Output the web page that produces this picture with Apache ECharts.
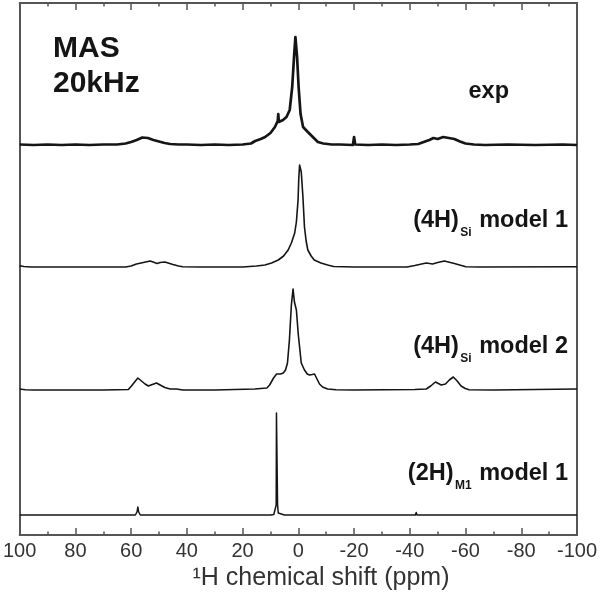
<!DOCTYPE html>
<html><head><meta charset="utf-8">
<script src="https://cdn.jsdelivr.net/npm/echarts@6/dist/echarts.min.js"></script>
<style>html,body{margin:0;padding:0;background:#fff}#c{width:600px;height:594px}</style>
</head><body><div id="c"></div>
<script>
const FONT = "'Liberation Sans', Arial, Helvetica, sans-serif";

// x axis: ppm, reversed, ticks every 20 (minor every 10)
const xMin = -100, xMax = 100, xStep = 20;
const xTitle = '\u00B9H chemical shift (ppm)';
const annotation = ['MAS', '20kHz'];

// vertical offsets of the stacked spectra (intensity units)
const offsets = [390, 268, 145, 20];

// [ppm, intensity]
const expData = [[100,0.5],[95,0],[90,0.5],[85,0],[80,0.5],[75,0],[70,0.5],[65,0.5],[62,1.5],[60,3],[58,5],[56,7.5],[54,7],[52,5],[50,3.5],[48,2],[46,1],[43,0.5],[40,0.5],[35,0],[30,0.5],[25,0],[20,0.5],[17,1.5],[15.5,4],[13.5,6],[11.9,8],[10,12],[8.4,18],[7.8,20],[7.4,24],[7.2,31],[7.0,23],[6.6,23],[5.5,25],[4.25,28],[3.1,35],[2.2,58],[1.5,90],[1.05,108],[0.45,88],[-0.1,58],[-0.8,31],[-1.7,18],[-3.4,13],[-5.2,8],[-7,3],[-9,1.5],[-12,0.5],[-15,0.5],[-19.6,0],[-20,8],[-20.4,0.5],[-25,0],[-30,0.5],[-35,0],[-40,0.5],[-43,1],[-45,3],[-47,5],[-48.5,7],[-50,6],[-52,8],[-54,7],[-56,6],[-58,3.5],[-60,1.5],[-63,0.5],[-67,0],[-75,0.5],[-85,0],[-95,0.5],[-100,0]];

const model1Data = [[100,1.3],[98.5,0.5],[96,0],[80,0],[62,0],[60,1],[58.1,3],[55.6,4.5],[53.2,6],[52.1,5],[50.7,3.5],[49.6,4.5],[47.9,5],[45,2.5],[43,1],[41.5,0.3],[35,0],[20,0],[15,1],[12,2],[9.6,4],[7.2,7],[5.3,11],[3.65,17],[2.5,24],[1.3,34],[0.7,45],[0.1,67],[-0.15,88],[-0.45,102],[-0.8,100],[-1.05,95],[-1.65,70],[-2.2,40],[-2.8,26],[-3.4,17],[-4.6,11],[-5.7,7],[-8.1,4],[-10.5,2],[-12.7,0.5],[-20,0],[-39,0],[-41.8,1.5],[-45.9,4],[-48.2,3],[-50,4.5],[-52.4,6],[-56,3.5],[-60.1,0.3],[-65,0],[-100,0.3]];

const model2Data = [[100,1],[98,0.3],[95,0],[70,0],[61,0.5],[59.9,4],[57.6,12],[56.3,9],[55,6],[53.8,4],[52.4,5.5],[50.9,7],[49.6,5],[47.9,2.5],[46,1],[43.8,1],[41.4,0],[30,0],[15.6,1],[11.3,2],[10.3,5],[8.9,12],[7.8,16],[6.4,16],[5.4,17],[4.6,20],[3.9,27],[3.2,50],[2.5,85],[1.9,101],[1.4,88],[0.7,80],[0,55],[-1.05,27],[-2.2,20],[-3.2,16],[-4,15],[-5,15.5],[-5.8,16],[-6.7,11],[-7.6,6],[-8.7,3],[-10.5,1],[-13.5,0.3],[-20,0],[-41.8,0.5],[-45.9,1],[-47.5,4],[-49.2,8],[-51.3,5],[-52.8,6],[-54.2,10],[-55.6,13],[-57,9],[-58.4,4],[-59.9,1.5],[-61.3,0.3],[-70,0],[-100,1]];

const model2HData = [[100,0],[58.5,0],[57.9,3],[57.6,8],[57.3,3],[56.7,0],[10,0],[8.8,0.5],[8.2,2],[7.95,10],[7.85,102],[7.55,102],[7.45,10],[7.2,2],[6.6,0.5],[5,0],[-42,0],[-42.3,2.5],[-42.6,0],[-92,0],[-92.3,1],[-92.6,0],[-100,0]];

// labels: [main, subscript, rest]
const labels = [['exp','',''],['(4H)','Si',' model 1'],['(4H)','Si',' model 2'],['(2H)','M1',' model 1']];
const spectra = [expData, model1Data, model2Data, model2HData];

const chart = echarts.init(document.getElementById('c'), null, {renderer:'canvas'});
const frame = '#555';
function xAx(pos, showLabel) {
  return {
    type:'value', position:pos, min:xMin, max:xMax, interval:xStep, inverse:true,
    axisLine:{show:true, onZero:false, lineStyle:{color:frame, width:2}},
    axisTick:{show:true, inside:true, length:7, lineStyle:{color:frame, width:1.5}},
    minorTick:{show:true, splitNumber:2, length:3.5, lineStyle:{color:frame, width:1.5}},
    axisLabel:{show:showLabel, fontSize:20, color:'#333', fontFamily:FONT, margin:6, showMinLabel:true, showMaxLabel:true},
    splitLine:{show:false}, minorSplitLine:{show:false}
  };
}
function yAx(pos) {
  return {type:'value', position:pos, min:0, max:532,
    axisLine:{show:true, onZero:false, lineStyle:{color:frame, width:2}},
    axisTick:{show:false}, axisLabel:{show:false}, splitLine:{show:false}};
}
const widths = [2.7, 1.6, 1.6, 1.5];
const series = spectra.map((d, i) => ({
  type:'line', name: labels[i].join(''), xAxisIndex:0, yAxisIndex:0,
  data: d.map(p => [p[0], p[1] + offsets[i]]),
  showSymbol:false, symbol:'none', animation:false,
  lineStyle:{color:'#151515', width:widths[i], join:'round'}
}));

// text measuring for subscript layout
const mctx = document.createElement('canvas').getContext('2d');
function tw(text, font) { mctx.font = font; return mctx.measureText(text).width; }
const mainSize = 23.5;
const mainFont = 'bold ' + mainSize + 'px ' + FONT, subFont = 'bold 12px ' + FONT;
function txt(x, y, text, font, align, fill) {
  return {type:'text', x:x, y:y, style:{text:text, font:font, fill:fill || '#151515', align:align, verticalAlign:'middle', textAlign:align, textVerticalAlign:'middle'}};
}

// label anchor: [right edge, baseline] in pixels
const labelPos = [[509, 100], [568, 228.5], [568, 355], [568, 481.5]];
const graphics = [
  txt(53, 48.5, annotation[0], 'bold 30px ' + FONT, 'left'),
  txt(53, 83.5, annotation[1], 'bold 30px ' + FONT, 'left'),
  txt(321, 578.5, xTitle, '25px ' + FONT, 'center', '#333')
];
labels.forEach((l, i) => {
  const R = labelPos[i][0], base = labelPos[i][1];
  const yMain = base - 0.3465 * mainSize;
  if (!l[1]) { graphics.push(txt(R, yMain, l[0], mainFont, 'right')); return; }
  const wRest = tw(l[2], mainFont), wSub = tw(l[1], subFont);
  const restLeft = R - wRest;
  const subLeft = restLeft - wSub - 1;
  graphics.push(txt(restLeft, yMain, l[2], mainFont, 'left'));
  graphics.push(txt(subLeft, base + 8 - 0.3465 * 12, l[1], subFont, 'left'));
  graphics.push(txt(subLeft - 1.5, yMain, l[0], mainFont, 'right'));
});

chart.setOption({
  animation:false,
  backgroundColor:'#fff',
  grid:{left:15, right:21, top:3, bottom:59, containLabel:false},
  xAxis:[xAx('bottom', true), xAx('top', false)],
  yAxis:[yAx('left'), yAx('right')],
  series: series,
  graphic: graphics
});
</script></body></html>
